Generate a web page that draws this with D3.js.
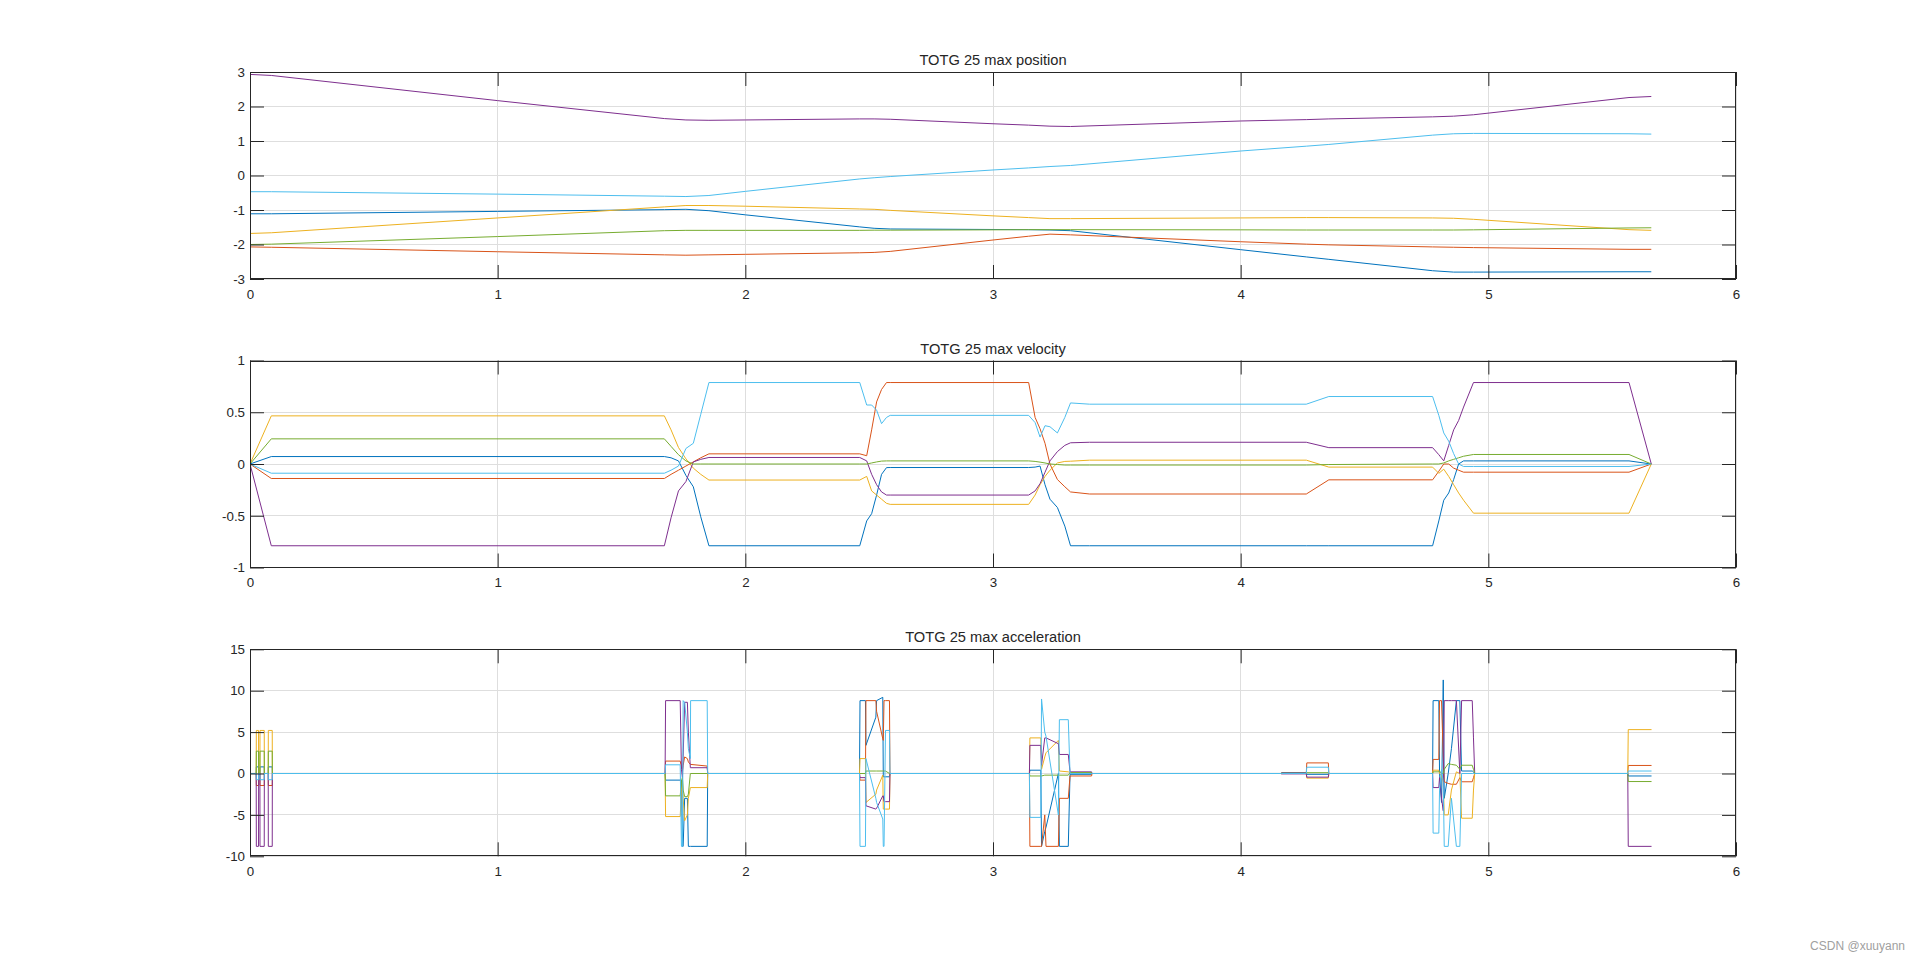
<!DOCTYPE html>
<html><head><meta charset="utf-8">
<script src="https://cdn.jsdelivr.net/npm/d3@7"></script>
<style>
body{margin:0;background:#fff;}
svg{display:block;}
</style>
</head><body><svg id="c" width="1920" height="962"></svg>
<script>
// ---------- data ----------
const xTicks = [0, 1, 2, 3, 4, 5, 6];
const titles = ["TOTG 25 max position", "TOTG 25 max velocity", "TOTG 25 max acceleration"];
const posTicks = [-3, -2, -1, 0, 1, 2, 3];
const velTicks = [-1, -0.5, 0, 0.5, 1];
const accTicks = [-10, -5, 0, 5, 10, 15];
const colors = ["#0072BD", "#D95319", "#EDB120", "#7E2F8E", "#77AC30", "#4DBEEE"];

// position
const posT  = [0, 0.086, 1.0, 1.673, 1.76, 1.853, 2.0, 2.462, 2.52, 2.585, 3.0, 3.144, 3.23, 3.313, 4.0, 4.265, 4.356, 4.775, 4.86, 4.94, 5.568, 5.658];
const posJ1 = [-1.11, -1.11, -1.04, -0.99, -0.98, -1.02, -1.14, -1.49, -1.53, -1.55, -1.565, -1.57, -1.58, -1.60, -2.15, -2.36, -2.43, -2.76, -2.80, -2.80, -2.79, -2.79];
const posJ2 = [-2.07, -2.08, -2.21, -2.30, -2.31, -2.30, -2.285, -2.24, -2.23, -2.20, -1.87, -1.76, -1.70, -1.72, -1.92, -1.99, -2.01, -2.07, -2.08, -2.09, -2.14, -2.14];
const posJ3 = [-1.68, -1.66, -1.23, -0.91, -0.87, -0.87, -0.89, -0.97, -0.98, -1.01, -1.17, -1.22, -1.25, -1.25, -1.23, -1.22, -1.22, -1.23, -1.24, -1.27, -1.57, -1.59];
const posJ4 = [2.93, 2.90, 2.17, 1.65, 1.61, 1.60, 1.61, 1.64, 1.64, 1.63, 1.50, 1.46, 1.43, 1.42, 1.58, 1.62, 1.64, 1.70, 1.72, 1.76, 2.26, 2.29];
const posJ5 = [-2.0, -1.99, -1.77, -1.60, -1.59, -1.59, -1.59, -1.59, -1.585, -1.585, -1.575, -1.57, -1.57, -1.57, -1.575, -1.58, -1.58, -1.58, -1.58, -1.575, -1.52, -1.515];
const posJ6 = [-0.47, -0.47, -0.54, -0.60, -0.61, -0.58, -0.46, -0.10, -0.065, -0.03, 0.16, 0.22, 0.26, 0.29, 0.71, 0.85, 0.90, 1.17, 1.21, 1.22, 1.21, 1.20];

// velocity
const velT  = [0, 0.086, 1.673, 1.70, 1.73, 1.76, 1.79, 1.82, 1.853, 2.462, 2.49, 2.51, 2.53, 2.55, 2.57, 2.585, 3.144, 3.17, 3.19, 3.21, 3.23, 3.26, 3.29, 3.313, 3.39, 4.265, 4.356, 4.775, 4.80, 4.82, 4.84, 4.86, 4.88, 4.90, 4.94, 5.568, 5.658];
const velJ1 = [0, 0.072, 0.072, 0.06, 0.03, -0.11, -0.22, -0.51, -0.79, -0.79, -0.55, -0.48, -0.3, -0.1, -0.035, -0.034, -0.034, -0.03, -0.02, -0.2, -0.34, -0.42, -0.6, -0.79, -0.79, -0.79, -0.79, -0.79, -0.55, -0.35, -0.28, -0.15, 0.0, 0.03, 0.03, 0.03, 0];
const velJ2 = [0, -0.14, -0.14, -0.1, -0.06, -0.02, 0.02, 0.06, 0.098, 0.098, 0.08, 0.33, 0.6, 0.72, 0.787, 0.787, 0.787, 0.45, 0.34, 0.2, 0.0, -0.15, -0.22, -0.27, -0.29, -0.29, -0.153, -0.153, -0.07, 0.0, 0.0, -0.04, -0.06, -0.079, -0.079, -0.079, 0];
const velJ3 = [0, 0.465, 0.465, 0.33, 0.16, 0.05, -0.04, -0.10, -0.155, -0.155, -0.12, -0.26, -0.3, -0.34, -0.38, -0.39, -0.39, -0.3, -0.2, -0.12, -0.06, 0.01, 0.025, 0.027, 0.037, 0.037, -0.03, -0.03, -0.09, -0.05, -0.12, -0.2, -0.28, -0.35, -0.475, -0.475, 0];
const velJ4 = [0, -0.79, -0.79, -0.52, -0.26, -0.17, 0.02, 0.045, 0.063, 0.063, 0.03, -0.1, -0.2, -0.27, -0.3, -0.3, -0.3, -0.26, -0.19, -0.08, 0.03, 0.12, 0.18, 0.205, 0.21, 0.21, 0.158, 0.158, 0.09, 0.03, 0.18, 0.33, 0.42, 0.55, 0.787, 0.787, 0];
const velJ5 = [0, 0.243, 0.243, 0.17, 0.09, 0.03, 0.0, 0.0, 0.0, 0.0, 0.0, 0.01, 0.02, 0.028, 0.03, 0.03, 0.03, 0.025, 0.018, 0.01, 0.0, -0.005, -0.01, -0.01, -0.01, -0.01, -0.005, 0.0, 0.0, 0.01, 0.03, 0.045, 0.06, 0.075, 0.092, 0.092, 0];
const velJ6 = [0, -0.089, -0.089, -0.06, -0.02, 0.15, 0.2, 0.48, 0.787, 0.787, 0.57, 0.57, 0.52, 0.39, 0.45, 0.47, 0.47, 0.4, 0.26, 0.37, 0.36, 0.3, 0.45, 0.59, 0.578, 0.578, 0.652, 0.652, 0.47, 0.3, 0.22, 0.1, 0.0, -0.024, -0.024, -0.024, 0];

// acceleration
const accT = [0, 0.0250, 0.0256, 0.0345, 0.0350, 0.0400, 0.0404, 0.0575, 0.0579, 0.0736, 0.0740, 0.0898, 0.0902,
  1.676, 1.678, 1.737, 1.742, 1.746, 1.749, 1.755, 1.766, 1.770, 1.778, 1.779, 1.846, 1.848,
  2.461, 2.463, 2.485, 2.487, 2.527, 2.530, 2.555, 2.557, 2.560, 2.566, 2.582, 2.584,
  3.147, 3.149, 3.193, 3.196, 3.209, 3.214, 3.264, 3.268, 3.304, 3.311, 3.398, 3.400,
  4.163, 4.165, 4.265, 4.267, 4.354, 4.356,
  4.775, 4.777, 4.800, 4.803, 4.811, 4.818, 4.822, 4.838, 4.851, 4.871, 4.885, 4.892, 4.935, 4.940, 4.945,
  5.563, 5.565, 5.659];
const accJ1 = [0, 0, 0.8, 0.8, 0, 0, 0.8, 0.8, 0, 0, 0.8, 0.8, 0,
  0, -0.8, -0.8, -0.8, -8.8, -8.8, -3.0, -3.0, -8.8, -8.8, -8.8, -8.8, 0,
  0, 8.8, 8.8, 3.4, 6.8, 8.8, 9.2, -0.4, -0.4, -0.4, -0.4, 0,
  0, 0.4, 0.4, -8.8, -7.0, -6.5, 0.0, -8.8, -8.8, -0.1, -0.1, 0,
  0, 0.1, 0.1, -0.1, -0.1, 0,
  0, 8.8, 8.8, 0.0, -3.5, 11.3, -3.0, 0.0, 3.0, 8.8, 8.8, 0.3, 0.3, 0.2, 0,
  0, -0.3, -0.3];
const accJ2 = [0, 0, -1.45, -1.45, 0, 0, -1.45, -1.45, 0, 0, -1.45, -1.45, 0,
  0, 1.5, 1.5, 0.8, 0.3, 1.0, 2.0, 1.8, 1.4, 1.1, 1.1, 0.9, 0,
  0, -0.8, -0.8, 8.8, 8.8, 7.5, 4.2, 4.0, 8.8, 8.8, 8.8, 0,
  0, -8.8, -8.8, -8.8, -5.0, -8.8, -8.8, -3.0, -3.0, -0.3, -0.3, 0,
  0, 0.05, 0.05, 1.28, 1.28, 0,
  0, 1.7, 1.7, 8.8, 8.8, 2.0, -1.0, -1.2, -1.3, -1.3, -0.5, -1.0, -1.0, -0.5, 0,
  0, 0.97, 0.97];
const accJ3 = [0, 0, 5.2, 5.2, 0, 0, 5.2, 5.2, 0, 0, 5.2, 5.2, 0,
  0, -5.2, -5.2, -2.0, -0.5, -3.0, -5.7, -5.0, -3.0, -1.7, -1.7, -1.7, 0,
  0, 1.8, 1.8, -3.5, -2.5, -2.0, -0.2, -4.3, -4.3, -4.3, -4.3, 0,
  0, 4.3, 4.3, 0.5, 2.0, 2.5, 4.0, 0.3, 0.2, 0.1, 0.1, 0,
  0, 0, 0, -0.56, -0.56, 0,
  0, 0.4, 0.4, 0.0, -0.3, -1.0, -5.0, -5.0, -2.0, 0.2, 0.0, -5.4, -5.4, -2.0, 0,
  0, 5.3, 5.3];
const accJ4 = [0, 0, -8.8, -8.8, 0, 0, -8.8, -8.8, 0, 0, -8.8, -8.8, 0,
  0, 8.8, 8.8, 0.5, -0.5, 2.0, 8.6, 8.6, 5.0, 0.7, 0.7, 0.7, 0,
  0, -0.5, -0.5, -3.9, -4.3, -4.2, -2.7, -2.7, -3.4, -3.4, -3.4, 0,
  0, 3.4, 3.4, 1.0, 4.3, 4.3, 3.6, 2.3, 2.3, 0.2, 0.2, 0,
  0, -0.05, -0.05, -0.44, -0.44, 0,
  0, -1.7, -1.7, -0.5, -3.0, -4.5, 8.8, 8.8, 8.8, 8.8, 0.0, 8.8, 8.8, 4.3, 0,
  0, -8.8, -8.8];
const accJ5 = [0, 0, 2.7, 2.7, 0, 0, 2.7, 2.7, 0, 0, 2.7, 2.7, 0,
  0, -2.7, -2.7, -1.0, -0.5, -2.0, -2.8, -2.8, -2.5, 0, 0, 0, 0,
  0, 0, 0, 0.3, 0.3, 0.3, 0.3, 0.3, 0.3, 0.3, 0, 0,
  0, -0.3, -0.3, -0.3, -0.2, -0.2, -0.2, -0.2, -0.2, 0.1, 0.1, 0,
  0, 0, 0, 0.1, 0.1, 0,
  0, 0.2, 0.2, 0.3, 0.0, 0.0, 0.5, 1.2, 1.1, 1.0, 0.5, 1.0, 1.0, 0.5, 0,
  0, -0.97, -0.97];
const accJ6 = [0, 0, -0.75, -0.75, 0, 0, -0.75, -0.75, 0, 0, -0.75, -0.75, 0,
  0, 1.05, 1.05, -8.8, -8.8, 8.8, 8.6, 5.0, 3.0, 1.8, 8.8, 8.8, 0,
  0, -8.8, -8.8, 1.8, -3.0, -3.5, -5.5, -8.8, -8.8, 5.2, 5.2, 0,
  0, -5.3, -5.3, 9.0, 5.0, 4.5, -5.0, 6.5, 6.5, 0, 0, 0,
  0, 0, 0, 0.76, 0.76, 0,
  0, -7.2, -7.2, -2.0, 0.5, -1.0, -8.8, -8.8, -3.0, -8.8, -8.8, 0, 0, 0, 0,
  0, 0.3, 0.3];

// ---------- drawing ----------
const svg = d3.select("#c");
const FONT = "'Liberation Sans', Arial, Helvetica, sans-serif";
const INK = "#262626";
const left = 250, width = 1486, height = 207;
const tops = [72, 360.5, 649.3];

const panels = [
  {title: titles[0], t: posT, series: [posJ1, posJ2, posJ3, posJ4, posJ5, posJ6], domain: [-3, 3], ticks: posTicks},
  {title: titles[1], t: velT, series: [velJ1, velJ2, velJ3, velJ4, velJ5, velJ6], domain: [-1, 1], ticks: velTicks},
  {title: titles[2], t: accT, series: [accJ1, accJ2, accJ3, accJ4, accJ5, accJ6], domain: [-10, 15], ticks: accTicks}
];

const x = d3.scaleLinear().domain([0, 6]).range([0, width]);

panels.forEach((p, i) => {
  const g = svg.append("g").attr("transform", `translate(${left},${tops[i]})`);
  const y = d3.scaleLinear().domain(p.domain).range([height, 0]);

  // grid
  g.append("g").selectAll("line").data(xTicks).join("line")
    .attr("x1", d => x(d)).attr("x2", d => x(d)).attr("y1", 0).attr("y2", height)
    .attr("stroke", "#dedede").attr("stroke-width", 1).attr("shape-rendering", "crispEdges");
  g.append("g").selectAll("line").data(p.ticks).join("line")
    .attr("x1", 0).attr("x2", width).attr("y1", d => y(d)).attr("y2", d => y(d))
    .attr("stroke", "#dedede").attr("stroke-width", 1).attr("shape-rendering", "crispEdges");

  // clip
  const cid = "clip" + i;
  g.append("clipPath").attr("id", cid).append("rect").attr("width", width).attr("height", height);

  const line = d3.line().x(d => x(d[0])).y(d => y(d[1]));
  const lg = g.append("g").attr("clip-path", `url(#${cid})`);
  p.series.forEach((s, k) => {
    const pts = p.t.map((tt, j) => [tt, s[j]]);
    lg.append("path").datum(pts).attr("d", line)
      .attr("fill", "none").attr("stroke", colors[k]).attr("stroke-width", 1)
      .attr("stroke-linejoin", "round");
  });

  // axes (inward ticks on all four sides)
  const fmt = d => String(d);
  const axB = g.append("g").attr("transform", `translate(0,${height})`)
    .call(d3.axisBottom(x).tickValues(xTicks).tickSize(-14).tickPadding(10.5).tickFormat(fmt));
  const axT = g.append("g")
    .call(d3.axisTop(x).tickValues(xTicks).tickSize(-14).tickFormat(""));
  const axL = g.append("g")
    .call(d3.axisLeft(y).tickValues(p.ticks).tickSize(-14).tickPadding(5).tickFormat(fmt));
  const axR = g.append("g").attr("transform", `translate(${width},0)`)
    .call(d3.axisRight(y).tickValues(p.ticks).tickSize(-14).tickFormat(""));
  [axB, axT, axL, axR].forEach(a => {
    a.select(".domain").remove();
    a.selectAll(".tick line").attr("stroke", INK).attr("stroke-width", 1);
    a.selectAll("text").attr("fill", INK).style("font-family", FONT).style("font-size", "13.33px");
  });

  // box
  g.append("rect").attr("x", 0.5).attr("y", 0.5).attr("width", width - 1).attr("height", height - 1)
    .attr("fill", "none").attr("stroke", INK).attr("stroke-width", 1).attr("shape-rendering", "crispEdges");

  // title
  g.append("text").attr("x", width / 2).attr("y", -7)
    .attr("text-anchor", "middle").attr("fill", INK)
    .style("font-family", FONT).style("font-size", "14.67px")
    .text(p.title);
});

// watermark
svg.append("text").attr("x", 1905).attr("y", 950).attr("text-anchor", "end")
  .attr("fill", "#a0a0a0").style("font-family", FONT).style("font-size", "12px")
  .text("CSDN @xuuyann");
</script>
</body></html>
